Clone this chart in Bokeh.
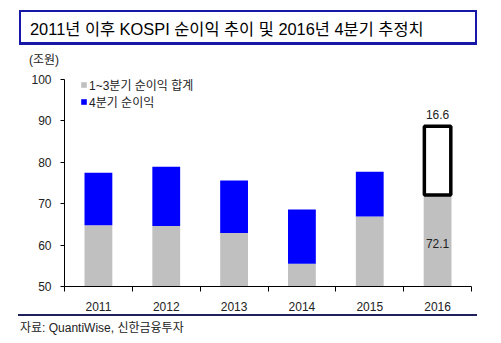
from bokeh.plotting import figure
from bokeh.layouts import column
from bokeh.models import (ColumnDataSource, FixedTicker, Label, Legend, LegendItem,
                          Range1d, Div)
from bokeh.embed import file_html
from bokeh.resources import INLINE

# ---- data ----
years = ["2011", "2012", "2013", "2014", "2015", "2016"]
q1_3 = [64.8, 64.6, 62.9, 55.5, 66.9, 72.1]      # 1~3분기 순이익 합계
q4 = [12.7, 14.3, 12.7, 13.1, 10.8, 16.6]        # 4분기 순이익 (2016 = 추정치)
y_ticks = [50, 60, 70, 80, 90, 100]
title_text = "2011년 이후 KOSPI 순이익 추이 및 2016년 4분기 추정치"
unit_text = "(조원)"
source_text = "자료: QuantiWise, 신한금융투자"
legend_labels = ["1~3분기 순이익 합계", "4분기 순이익"]

FONT = "Liberation Sans, Arial, Noto Sans CJK KR, sans-serif"
CSS_FONT = "'Liberation Sans', Arial, 'Noto Sans CJK KR', sans-serif"
W, H = 501, 343
TOP_H = 70          # header strip height
BOT_H = 30          # footer strip height
MAIN_H = H - TOP_H - BOT_H
FL, FR, FT, FB = 64, 471, 79, 288   # plot frame edges in canvas px

# ---- header (title box + unit) ----
header_html = f"""
<div style="position:relative;width:{W}px;height:{TOP_H}px;font-family:{CSS_FONT};background:white;">
  <div style="position:absolute;left:19px;top:10px;width:458px;height:35px;box-sizing:border-box;
              border-style:solid;border-color:#1818a8;border-width:2px 2.5px 3px 2.5px;"></div>
  <div style="position:absolute;left:30px;top:19px;height:20px;line-height:20px;font-size:16.4px;
              color:black;white-space:nowrap;">{title_text}</div>
  <div style="position:absolute;left:29px;top:52px;line-height:16px;font-size:12px;
              color:#222222;white-space:nowrap;">{unit_text}</div>
</div>"""
header = Div(text=header_html, width=W, height=TOP_H, margin=0)

# ---- main chart ----
n = len(years)
xc = [i + 0.5 for i in range(n)]
tops = [a + b for a, b in zip(q1_3, q4)]

src_all = ColumnDataSource(dict(x=xc, q13=q1_3, top=tops))
src_act = ColumnDataSource(dict(x=xc[:-1], q13=q1_3[:-1], top=tops[:-1]))
src_est = ColumnDataSource(dict(x=xc[-1:], q13=q1_3[-1:], top=tops[-1:]))

p = figure(width=W, height=MAIN_H, output_backend="svg", toolbar_location=None,
           x_range=Range1d(0, n), y_range=Range1d(50, 100),
           min_border_left=FL, min_border_right=W - FR,
           min_border_top=FT - TOP_H, min_border_bottom=TOP_H + MAIN_H - FB,
           margin=0)
p.outline_line_color = None
p.xgrid.visible = False
p.ygrid.visible = False
p.background_fill_color = "white"
p.border_fill_color = "white"

bw = 0.41
r_gray = p.vbar(x="x", bottom=50, top="q13", width=bw, source=src_all,
                fill_color="#c0c0c0", line_color=None)
r_blue = p.vbar(x="x", bottom="q13", top="top", width=bw, source=src_act,
                fill_color="#0000ff", line_color=None)
p.vbar(x="x", bottom="q13", top="top", width=bw - 0.02, source=src_est,
       fill_color="white", line_color="black", line_width=3.5)

p.add_layout(Label(x=xc[-1], y=tops[-1] + 2.9, text=f"{q4[-1]:.1f}",
                   text_align="center", text_baseline="middle",
                   text_font=FONT, text_font_size="12px", text_color="#222222"))
p.add_layout(Label(x=xc[-1], y=60.3, text=f"{q1_3[-1]:.1f}",
                   text_align="center", text_baseline="middle",
                   text_font=FONT, text_font_size="12px", text_color="#222222"))

xa = p.xaxis[0]
xa.ticker = FixedTicker(ticks=xc, minor_ticks=list(range(n + 1)))
xa.major_label_overrides = {xc[i]: years[i] for i in range(n)}
xa.major_tick_out = 0
xa.major_tick_in = 0
xa.minor_tick_out = 5
xa.minor_tick_in = 0
xa.axis_line_color = "black"
xa.minor_tick_line_color = "black"
xa.major_label_text_font = FONT
xa.major_label_text_font_size = "12px"
xa.major_label_text_color = "#222222"
xa.major_label_standoff = 10

ya = p.yaxis[0]
ya.ticker = FixedTicker(ticks=y_ticks, minor_ticks=[])
ya.major_tick_out = 4
ya.major_tick_in = 0
ya.axis_line_color = "black"
ya.major_tick_line_color = "black"
ya.major_label_text_font = FONT
ya.major_label_text_font_size = "12px"
ya.major_label_text_color = "#222222"
ya.major_label_standoff = 9

legend = Legend(items=[LegendItem(label=legend_labels[0], renderers=[r_gray]),
                       LegendItem(label=legend_labels[1], renderers=[r_blue])],
                location=(16, 176), orientation="vertical",
                glyph_width=7, glyph_height=7, label_height=16, label_standoff=2,
                spacing=0, padding=0, margin=0,
                border_line_color=None, background_fill_alpha=0,
                label_text_font=FONT, label_text_font_size="12px",
                label_text_color="#222222")
p.add_layout(legend, "center")

# ---- footer (source line + text) ----
footer_html = f"""
<div style="position:relative;width:{W}px;height:{BOT_H}px;font-family:{CSS_FONT};background:white;">
  <div style="position:absolute;left:18px;top:1px;width:459px;height:1.5px;background:#20205a;"></div>
  <div style="position:absolute;left:20px;top:7px;line-height:16px;font-size:12px;
              color:#222222;white-space:nowrap;">{source_text}</div>
</div>"""
footer = Div(text=footer_html, width=W, height=BOT_H, margin=0)

layout = column(header, p, footer, spacing=0)
open("out.html", "w").write(file_html(layout, INLINE))
